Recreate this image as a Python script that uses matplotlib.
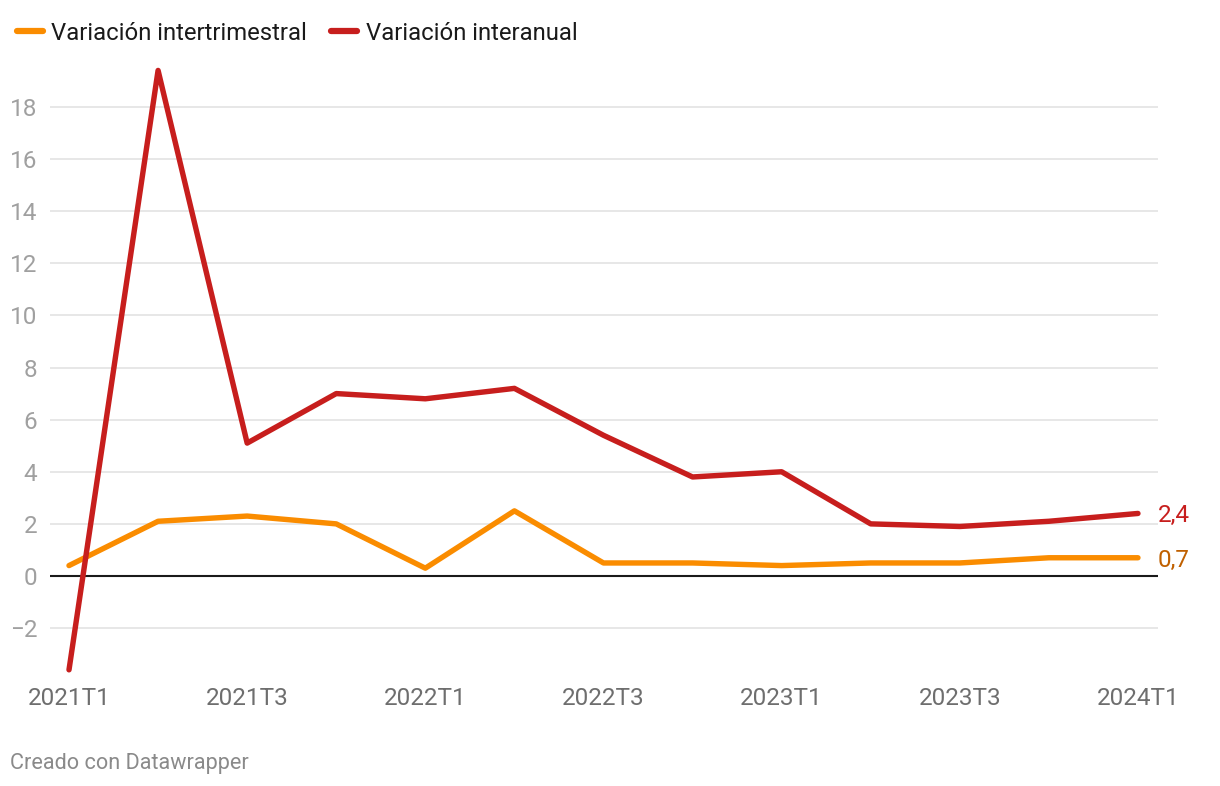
import matplotlib
matplotlib.use("Agg")
import matplotlib.pyplot as plt
from matplotlib.lines import Line2D

plt.rcParams['font.family'] = ['Roboto', 'DejaVu Sans']

quarters = ["2021T1", "2021T2", "2021T3", "2021T4", "2022T1", "2022T2", "2022T3",
            "2022T4", "2023T1", "2023T2", "2023T3", "2023T4", "2024T1"]
interanual = [-3.6, 19.4, 5.1, 7.0, 6.8, 7.2, 5.4, 3.8, 4.0, 2.0, 1.9, 2.1, 2.4]
intertrimestral = [0.4, 2.1, 2.3, 2.0, 0.3, 2.5, 0.5, 0.5, 0.4, 0.5, 0.5, 0.7, 0.7]
yticks = [-2, 0, 2, 4, 6, 8, 10, 12, 14, 16, 18]

RED = "#c71e1d"
ORANGE = "#fa8c00"

fig = plt.figure(figsize=(12.2, 7.86), dpi=100)
W, H = 1220, 786
ax = fig.add_axes([50 / W, (H - 680) / H, (1158 - 50) / W, (680 - 60) / H])

x = list(range(len(quarters)))
ax.plot(x, intertrimestral, color=ORANGE, lw=3.9, solid_capstyle='round', solid_joinstyle='round', zorder=3)
ax.plot(x, interanual, color=RED, lw=3.9, solid_capstyle='round', solid_joinstyle='round', zorder=4)

ax.set_xlim((50 - 69) / 89.08, (1158 - 69) / 89.08)
ax.set_ylim((576 - 680) / 26.06, (576 - 60) / 26.06)

for s in ax.spines.values():
    s.set_visible(False)
ax.set_yticks(yticks)
ax.set_yticklabels([("\u2212" + str(abs(v))) if v < 0 else str(v) for v in yticks])
ax.tick_params(axis='y', length=0, labelsize=17.5, labelcolor="#a0a0a0", pad=9)
for v in yticks:
    if v == 0:
        ax.axhline(0, color="#1a1a1a", lw=1.5, zorder=2)
    else:
        ax.axhline(v, color="#e3e3e3", lw=1.2, zorder=1)

xt = list(range(0, len(quarters), 2))
ax.set_xticks(xt)
ax.set_xticklabels([quarters[i] for i in xt])
ax.tick_params(axis='x', length=0, labelsize=17.5, labelcolor="#6e6e6e", pad=5)

ax.text(len(quarters) - 1 + 0.22, interanual[-1], "2,4", color=RED,
        fontsize=17.5, va='center_baseline', ha='left', clip_on=False)
ax.text(len(quarters) - 1 + 0.22, intertrimestral[-1], "0,7", color="#c06000",
        fontsize=17.5, va='center_baseline', ha='left', clip_on=False)

handles = [Line2D([0], [0], color=ORANGE, lw=4.5, solid_capstyle='round'),
           Line2D([0], [0], color=RED, lw=4.5, solid_capstyle='round')]
fig.legend(handles, ["Variación intertrimestral", "Variación interanual"],
           loc='upper left', bbox_to_anchor=(-0.004, 1.0), ncol=2, frameon=False,
           fontsize=17.2, handlelength=1.1, handletextpad=0.35, columnspacing=1.0,
           labelcolor="#1a1a1a")

fig.text(10 / W, 1 - 763 / H, "Creado con Datawrapper", color="#8a8a8a", fontsize=15.6,
         va='center', ha='left')

fig.savefig("out.png", dpi=100)
